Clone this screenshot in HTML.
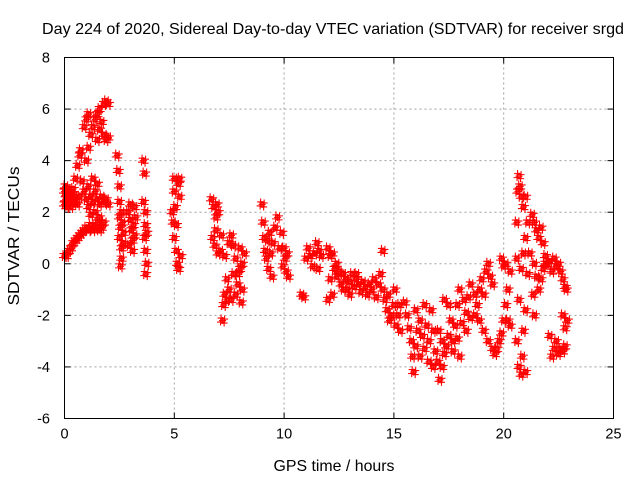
<!DOCTYPE html>
<html><head><meta charset="utf-8"><style>
body{margin:0;background:#fff;}
svg{display:block;font-family:"Liberation Sans",Arial,sans-serif;}
</style></head><body>
<svg id="chart" width="640" height="480" xmlns="http://www.w3.org/2000/svg">
<rect width="640" height="480" fill="#fff"/>
<text x="333" y="34" text-anchor="middle" font-size="16" textLength="582" lengthAdjust="spacingAndGlyphs">Day 224 of 2020, Sidereal Day-to-day VTEC variation (SDTVAR) for receiver srgd</text>
<text x="334" y="471" text-anchor="middle" font-size="16" textLength="121" lengthAdjust="spacingAndGlyphs">GPS time / hours</text>
<text transform="translate(19,236) rotate(-90)" text-anchor="middle" font-size="16" textLength="139" lengthAdjust="spacingAndGlyphs">SDTVAR / TECUs</text>
<g id="grid"></g><g id="ticks"></g><g id="points"></g>
<rect x="64.5" y="57.5" width="549" height="361" fill="none" stroke="#000" stroke-width="1"/>
</svg>
<script>
const xTicks=[0,5,10,15,20,25];
const yTicks=[-6,-4,-2,0,2,4,6,8];
const sdtvarPoints=[
[0,2.3],[0,2.8],[0.05,2.5],[0.05,3.0],[0.1,2.2],[0.1,2.7],[0.15,2.4],[0.15,2.9],[0.2,2.6],[0.2,2.3],[0.25,2.8],[0.3,2.5],[0.3,2.2],[0.35,2.7],[0.4,2.4],[0.45,2.6],[0.5,2.5],[0.6,2.3],[0.7,2.6],
[0,0.3],[0.1,0.3],[0.2,0.5],[0.3,0.6],[0.4,0.8],[0.5,0.9],[0.6,1.0],[0.7,1.1],[0.8,1.2],[0.9,1.3],[1.0,1.4],[1.1,1.3],[1.2,1.5],[1.3,1.3],[1.4,1.4],[1.5,1.6],[1.6,1.3],
[0.4,2.9],[0.5,3.3],[0.6,3.8],[0.7,4.2],[0.75,4.4],[0.8,3.2],[0.9,2.8],[0.9,5.3],[1.0,5.6],[1.0,4.0],[1.1,4.5],[1.1,5.8],[1.2,5.0],[1.3,5.3],[1.4,5.6],[1.5,5.8],[1.6,6.0],[1.5,4.8],[1.6,5.2],[1.7,5.5],[1.8,5.0],[1.9,4.8],[1.8,6.2],[1.9,6.3],[2.0,6.2],[2.0,4.9],
[1.0,2.5],[1.1,2.2],[1.2,2.6],[1.3,2.4],[1.4,2.8],[1.5,2.5],[1.6,2.3],[1.7,2.6],[1.8,2.4],[1.9,2.5],[2.0,2.3],[1.2,1.9],[1.4,2.0],[1.6,1.8],[1.8,1.6],[1.1,3.0],[1.3,3.3],[1.5,3.1],[1.7,1.4],
[2.4,4.2],[2.45,3.6],[2.5,3.0],[2.5,2.4],[2.5,1.8],[2.55,1.4],[2.5,1.0],[2.6,0.6],[2.6,0.2],[2.55,-0.1],[2.7,1.2],[2.7,0.8],[2.65,1.6],[2.6,2.0],
[2.9,2.0],[3.0,2.3],[3.0,1.7],[3.05,1.3],[3.1,0.9],[3.1,0.5],[3.15,1.5],[3.2,2.2],[3.2,1.1],[2.95,0.7],[3.25,1.8],
[3.6,4.0],[3.65,3.5],[3.7,2.0],[3.7,1.5],[3.65,1.0],[3.7,0.5],[3.75,0.0],[3.7,-0.4],[3.6,2.4],[3.75,1.2],
[4.9,2.0],[5.0,3.3],[5.0,2.8],[5.05,2.2],[5.1,1.5],[5.0,1.0],[5.1,0.5],[5.15,0.0],[5.2,-0.2],[5.2,3.1],[5.25,2.6],[5.3,0.3],[4.95,1.6],[5.25,3.3],
[6.7,2.5],[6.8,2.2],[6.9,1.8],[7.0,2.0],[6.75,1.0],[6.85,0.7],[6.9,1.3],[7.0,0.4],[7.1,0.5],[7.15,1.1],[6.95,2.3],
[7.2,-2.2],[7.25,-1.6],[7.3,-1.2],[7.4,-0.6],[7.5,-1.0],[7.6,-1.4],[7.7,-0.4],[7.8,0.2],[7.9,-0.8],[8.0,0.6],[8.1,0.0],[7.5,0.8],[7.6,1.1],[7.7,0.7],[7.8,-1.2],[7.9,-0.4],[8.0,-0.2],[8.1,-1.0],[8.2,0.4],[7.4,-1.4],[7.3,0.3],[8.05,-1.5],
[9.0,2.3],[9.05,1.6],[9.1,1.0],[9.15,0.5],[9.2,0.2],[9.3,-0.2],[9.4,0.4],[9.5,0.8],[9.6,1.4],[9.7,1.8],[9.45,-0.5],[9.35,1.2],[9.8,0.6],[9.25,0.9],
[9.9,1.2],[10.0,0.6],[10.05,0.2],[10.1,-0.3],[10.15,0.4],[10.2,-0.5],[9.95,-0.1],
[10.8,-1.2],[10.9,-1.3],[11.0,0.2],[11.1,0.6],[11.2,0.3],[11.3,-0.1],[11.4,0.4],[11.5,0.8],[11.6,0.5],[11.7,0.3],[11.55,-0.2],
[12.0,0.6],[12.1,0.3],[12.1,-0.6],[12.2,0.4],[12.3,-0.2],[12.4,-0.5],[12.5,-0.3],[12.6,-0.8],[12.7,-0.4],[12.8,-0.6],[12.9,-1.0],[13.0,-0.7],[13.1,-0.4],[13.2,-0.9],[13.3,-0.6],[13.4,-0.8],[13.5,-1.1],[13.6,-0.7],[13.7,-0.9],[13.8,-1.2],[13.9,-0.8],[14.0,-1.0],[14.1,-0.6],[14.2,-1.3],[14.3,-0.8],[14.4,-0.4],[14.5,0.5],[14.5,-1.0],[12.2,-1.2],[12.0,-1.4],[12.4,0.0],[12.7,-1.0],[13.0,-1.2],[13.3,-0.4],
[14.6,-1.4],[14.7,-1.8],[14.8,-2.2],[14.9,-2.0],[15.0,-1.6],[15.1,-2.4],[15.2,-2.0],[15.3,-2.6],[14.75,-1.2],[15.05,-1.0],[15.25,-1.6],
[15.5,-1.5],[15.6,-2.0],[15.7,-2.5],[15.8,-3.0],[15.85,-3.6],[15.9,-4.2],[16.0,-3.2],[16.1,-2.6],[16.2,-2.2],[16.3,-2.8],[16.4,-3.3],[16.5,-2.4],[16.6,-3.0],[16.7,-1.8],[16.8,-2.6],[16.9,-3.4],[17.0,-3.8],[17.1,-4.5],[17.2,-4.0],[17.3,-3.5],[16.4,-1.6],[16.0,-1.8],[16.6,-3.8],[16.8,-4.0],[16.2,-3.6],[17.05,-2.6],[17.2,-3.0],
[17.3,-1.4],[17.5,-1.6],[17.6,-2.2],[17.7,-3.0],[17.8,-2.4],[17.9,-1.6],[18.0,-1.0],[18.2,-1.4],[18.3,-1.9],[18.4,-1.3],[18.5,-0.8],[18.7,-1.2],[18.8,-1.6],[18.9,-1.0],[19.0,-0.6],[19.1,-1.2],[19.2,-0.3],[19.3,0.0],[19.4,-0.5],[19.5,-0.8],
[17.5,-2.8],[17.7,-3.4],[17.9,-2.9],[18.1,-2.3],[18.3,-2.6],[18.5,-2.1],[18.7,-2.0],[18.9,-2.2],[19.1,-2.6],[19.3,-3.0],[19.5,-3.3],[19.6,-3.5],[19.7,-3.3],[19.8,-3.0],[19.9,-2.7],[20.0,-2.2],[20.1,-1.6],[20.2,-1.0],[18.0,-3.6],[17.4,-3.2],
[19.9,0.2],[20.0,-0.1],[20.1,0.0],[20.2,-2.2],[20.3,-2.4],[20.3,-0.3],
[20.6,-3.0],[20.7,-4.0],[20.8,-4.3],[20.85,-3.6],[20.9,-2.6],[21.0,-1.8],[21.0,-4.2],[20.7,-1.4],[20.8,-0.2],[20.9,0.4],[21.0,1.0],[20.6,0.2],[20.65,2.8],[20.7,3.4],[20.75,3.0],[20.8,2.6],[20.9,2.2],[21.0,2.6],[21.1,1.6],[20.6,1.6],[21.1,-0.4],[21.2,0.4],
[21.4,1.6],[21.5,1.3],[21.6,1.0],[21.7,1.4],[21.8,0.8],[21.9,0.3],[21.5,-0.5],[21.6,-1.0],[21.7,-0.6],[21.8,-0.2],[21.9,0.0],[21.4,0.0],[21.3,1.9],[21.35,-1.2],[21.4,-2.0],
[22.0,0.0],[22.1,0.1],[22.2,-0.3],[22.3,0.2],[22.4,-0.1],[22.5,0.0],[22.6,-0.3],[22.7,-0.6],[22.8,-0.9],[22.85,-1.0],[22.1,-2.8],[22.2,-3.6],[22.3,-3.3],[22.4,-3.0],[22.5,-3.5],[22.6,-3.3],[22.7,-3.4],[22.8,-3.2],[22.9,-2.2],[22.8,-2.5],[22.7,-2.0]
];
const NS="http://www.w3.org/2000/svg";
const L=64.5,R=613.5,T=57.5,B=418.5;
const xS=v=>L+(v-0)/(25-0)*(R-L);
const yS=v=>B-(v+6)/(14)*(B-T);
function mk(tag,attrs,parent){const e=document.createElementNS(NS,tag);for(const k in attrs)e.setAttribute(k,attrs[k]);parent.appendChild(e);return e;}
const grid=document.getElementById('grid'),ticks=document.getElementById('ticks'),pts=document.getElementById('points');
xTicks.forEach(t=>{
  const x=xS(t);
  if(t>0&&t<25){const g=mk('line',{x1:x,x2:x,y1:T,y2:B,stroke:'#a0a0a0','stroke-dasharray':'2,3'},grid);
  
  }
  mk('line',{x1:x,x2:x,y1:B,y2:B-6,stroke:'#000'},ticks);
  mk('line',{x1:x,x2:x,y1:T,y2:T+6,stroke:'#000'},ticks);
  const lb=mk('text',{x:x,y:B+20,'text-anchor':'middle','font-size':'14.5'},ticks);lb.textContent=t;
  
  
});
yTicks.forEach(t=>{
  const y=yS(t);
  if(t>-6&&t<8){const g=mk('line',{x1:L,x2:R,y1:y,y2:y,stroke:'#a0a0a0','stroke-dasharray':'2,3'},grid);
  
  }
  mk('line',{x1:L,x2:L+6,y1:y,y2:y,stroke:'#000'},ticks);
  mk('line',{x1:R,x2:R-6,y1:y,y2:y,stroke:'#000'},ticks);
  const lb=mk('text',{x:50,y:y+5,'text-anchor':'end','font-size':'14.5'},ticks);lb.textContent=t;
  
  
});
const thick=[[0,0],[1.5,2.5],[-1.5,-2.5],[2,-1.5],[-2,1.5]];
sdtvarPoints.forEach(p=>{
  const x=xS(p[0]),y=yS(p[1]);
  let d='';
  thick.forEach(o=>{const cx=x+o[0],cy=y+o[1];d+=`M${cx-3.5},${cy}H${cx+3.5}M${cx},${cy-3.5}V${cy+3.5}`;});
  const m=mk('path',{d:d,stroke:'#f00','stroke-width':'1.1',fill:'none'},pts);
  
  
});
</script>
</body></html>
